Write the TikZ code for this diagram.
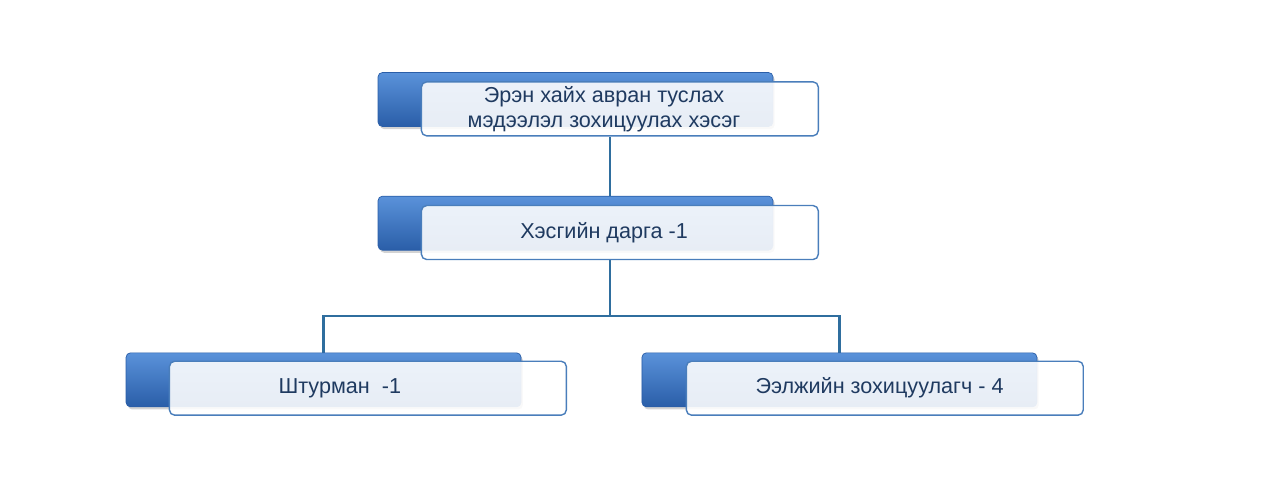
\documentclass[tikz,border=0pt]{standalone}
\usepackage{fontspec}
\setmainfont{Liberation Sans}
\usepackage{tikz}
\usetikzlibrary{positioning, shadows, backgrounds}

\definecolor{boxtop}{HTML}{5A92DA}
\definecolor{boxmid}{HTML}{3B77C6}
\definecolor{boxbot}{HTML}{2A5EA8}
\definecolor{frameblue}{HTML}{4A7EBB}
\definecolor{linkblue}{HTML}{2F6E9E}
\definecolor{textnavy}{HTML}{1F3A60}

\begin{document}
\begin{tikzpicture}[
                x = 0.02cm, y = -0.02cm,
                backbox/.style={rectangle, rounded corners=2.5pt, draw=boxbot, line width=0.4pt,
                    top color=boxtop, middle color=boxmid, bottom color=boxbot,
                    minimum width=7.9cm, minimum height=1.08cm, inner sep=0pt,
                    drop shadow={shadow xshift=1pt, shadow yshift=-1.5pt, opacity=0.35}},
                frontbox/.style={rectangle, rounded corners=3pt, draw=frameblue, line width=0.8pt,
                    fill=white, fill opacity=0.89, text opacity=1,
                    minimum width=7.94cm, minimum height=1.08cm, inner sep=0pt,
                    anchor=north west},
                txt/.style={align=center, text=textnavy, text opacity=1, fill opacity=1,
                    font=\fontsize{12.3}{14.3}\selectfont},
                link/.style={draw=linkblue, line width=1.2pt}
            ]
            \useasboundingbox (0,0) rectangle (1276,501);

            % back boxes
            \node[backbox] (topB) at (575.5,99.5) {};
            \node[backbox, below=1.38cm of topB] (midB) {};
            \node[backbox, below=2.04cm of midB, xshift=-5.04cm] (leftB) {};
            \node[backbox, below=2.04cm of midB, xshift=5.28cm] (rightB) {};

            % front boxes, text set a bit left of centre
            \node[frontbox, label={[txt, xshift=-9]center:Эрэн хайх авран туслах\\мэдээлэл зохицуулах хэсэг}]
                (topF) at ([shift={(43,9)}]topB.north west) {};
            \node[frontbox, label={[txt, xshift=-9]center:Хэсгийн дарга -1}]
                (midF) at ([shift={(43,9)}]midB.north west) {};
            \node[frontbox, label={[txt, xshift=-16]center:Штурман\ \ -1}]
                (leftF) at ([shift={(43,8)}]leftB.north west) {};
            \node[frontbox, label={[txt, xshift=-3]center:Ээлжийн зохицуулагч - 4}]
                (rightF) at ([shift={(44,8)}]rightB.north west) {};

            \coordinate (spine) at (610,316);

            % connectors
            \begin{scope}[on background layer]
            \draw[link] (topF.south -| spine) -- (midB.north -| spine);
            \draw[link] (midF.south -| spine) -- (spine);
            \draw[link] (leftB.north) |- (spine) -| (rightB.north);
            \end{scope}
        \end{tikzpicture}
\end{document}
